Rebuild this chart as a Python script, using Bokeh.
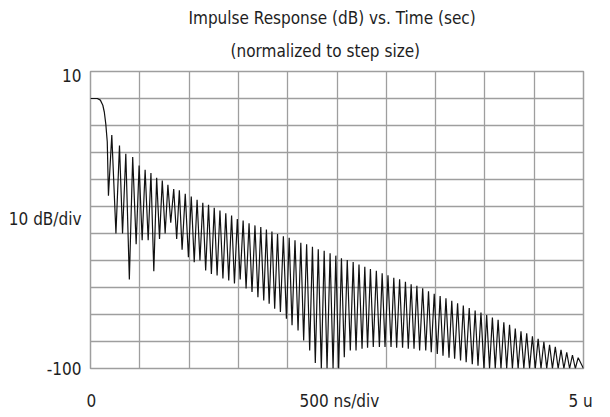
from bokeh.plotting import figure
from bokeh.models import Range1d, Grid, FixedTicker, LinearAxis, Title
from bokeh.embed import file_html
from bokeh.resources import INLINE

# ---- data (time in microseconds, level in dB) ----
main_t = [0.0, 0.07, 0.10, 0.125, 0.14, 0.155, 0.17]
main_db = [0.0, 0.0, -0.6, -2.5, -5.0, -9.4, -16.0]

null_t = [0.182, 0.258, 0.325, 0.394, 0.463, 0.524, 0.585, 0.642, 0.700, 0.757,
          0.814, 0.874, 0.929, 0.993, 1.052, 1.110, 1.168, 1.226, 1.284, 1.343,
          1.402, 1.460, 1.518, 1.578, 1.638, 1.698, 1.757, 1.812, 1.868, 1.926,
          1.987, 2.044, 2.105, 2.162, 2.223, 2.280, 2.341, 2.399, 2.460, 2.517,
          2.574, 2.635, 2.693, 2.754, 2.810, 2.868, 2.930, 2.987, 3.048, 3.105,
          3.165, 3.223, 3.281, 3.338, 3.400, 3.456, 3.517, 3.575, 3.636, 3.693,
          3.753, 3.810, 3.872, 3.930, 3.990, 4.047, 4.105, 4.163, 4.221, 4.279,
          4.337, 4.395, 4.453, 4.511, 4.569, 4.627, 4.685, 4.743, 4.801, 4.859,
          4.917, 5.000]
null_db = [-36.0, -50.0, -50.0, -67.0, -54.0, -52.5, -52.5, -64.0, -52.0, -50.0,
           -46.0, -52.0, -56.0, -58.8, -60.6, -60.0, -63.7, -65.0, -65.5, -66.7,
           -67.4, -68.5, -67.0, -70.4, -71.7, -73.6, -74.8, -76.0, -77.9, -79.1,
           -81.6, -84.0, -85.9, -89.6, -93.3, -98.0, -100.0, -100.0, -100.0, -100.0,
           -95.8, -93.3, -93.3, -92.7, -92.3, -92.0, -92.0, -92.0, -92.0, -92.3,
           -92.3, -92.7, -92.7, -93.3, -93.3, -94.0, -94.6, -95.3, -96.0, -96.4,
           -97.0, -97.7, -98.4, -99.0, -100.0, -100.0, -100.0, -100.0, -100.0, -100.0,
           -100.0, -100.0, -100.0, -100.0, -100.0, -100.0, -100.0, -100.0, -100.0, -100.0,
           -100.0, -100.0]

peak_t = [0.216, 0.294, 0.358, 0.428, 0.493, 0.554, 0.613, 0.671, 0.728, 0.785,
          0.844, 0.901, 0.961, 1.022, 1.081, 1.139, 1.197, 1.255, 1.313, 1.372,
          1.431, 1.489, 1.548, 1.608, 1.668, 1.727, 1.784, 1.840, 1.897, 1.956,
          2.015, 2.074, 2.133, 2.192, 2.251, 2.310, 2.370, 2.430, 2.488, 2.545,
          2.604, 2.664, 2.723, 2.782, 2.839, 2.899, 2.958, 3.017, 3.076, 3.135,
          3.194, 3.252, 3.310, 3.369, 3.428, 3.486, 3.546, 3.605, 3.664, 3.723,
          3.781, 3.841, 3.901, 3.960, 4.018, 4.076, 4.134, 4.192, 4.250, 4.308,
          4.366, 4.424, 4.482, 4.540, 4.598, 4.656, 4.714, 4.772, 4.830, 4.888,
          4.946]
peak_db = [-13.5, -17.4, -20.5, -21.7, -24.8, -26.4, -27.6, -29.4, -30.4, -32.0,
           -33.5, -34.0, -35.3, -36.3, -37.5, -38.6, -39.4, -40.5, -41.5, -42.5,
           -43.3, -44.6, -45.2, -46.2, -47.0, -47.6, -48.5, -49.3, -50.2, -51.0,
           -51.6, -52.5, -53.4, -54.0, -54.9, -55.8, -56.4, -57.3, -58.2, -59.2,
           -59.8, -60.6, -61.5, -62.3, -63.2, -63.8, -64.7, -65.5, -66.4, -67.0,
           -67.9, -68.8, -69.4, -70.3, -71.4, -72.3, -73.2, -74.0, -74.9, -75.8,
           -76.7, -77.6, -78.5, -79.3, -80.2, -81.1, -82.0, -82.9, -83.8, -85.2,
           -86.2, -87.0, -88.1, -89.0, -90.1, -91.2, -92.0, -93.1, -94.0, -95.0,
           -96.0]

x_grid = [0.0, 0.5, 1.0, 1.5, 2.0, 2.5, 3.0, 3.5, 4.0, 4.5, 5.0]
y_grid = [10, 0, -10, -20, -30, -40, -50, -60, -70, -80, -90, -100]

title_lines = ["Impulse Response (dB) vs. Time (sec)", "(normalized to step size)"]
y_label_at = [8.5, -44.8, -100]
y_labels = ["10", "10 dB/div", "-100"]
x_label_at = [0.01, 2.524, 4.97]
x_labels = ["0", "500 ns/div", "5 u"]

# ---- trace assembled from the arrays ----
xs = list(main_t)
ys = list(main_db)
for i in range(len(null_t)):
    xs.append(null_t[i]); ys.append(null_db[i])
    if i < len(peak_t):
        xs.append(peak_t[i]); ys.append(peak_db[i])

FONT = "'Liberation Sans Narrow', 'DejaVu Sans Condensed', 'Roboto Condensed', 'Liberation Sans', sans-serif"
TXT = "#1e1e1e"
GRID = "#9e9e9e"
FS = "17px"

p = figure(width=600, height=415, output_backend="svg", toolbar_location=None, tools="",
           x_range=Range1d(0, 5), y_range=Range1d(-100, 10),
           x_axis_type=None, y_axis_type=None,
           min_border_left=90, min_border_right=17, min_border_top=71, min_border_bottom=47)
p.outline_line_color = GRID
p.outline_line_width = 1.5
p.background_fill_color = "white"
p.border_fill_color = "white"

p.add_layout(Grid(dimension=0, ticker=FixedTicker(ticks=x_grid),
                  grid_line_color=GRID, grid_line_width=1.3))
p.add_layout(Grid(dimension=1, ticker=FixedTicker(ticks=y_grid),
                  grid_line_color=GRID, grid_line_width=1.3))

p.line(xs, ys, line_color="#111111", line_width=1.2)

def style_axis(ax, standoff):
    ax.axis_line_color = None
    ax.major_tick_line_color = None
    ax.minor_tick_line_color = None
    ax.major_tick_out = 0
    ax.major_tick_in = 0
    ax.major_label_standoff = standoff
    ax.major_label_text_font = FONT
    ax.major_label_text_font_size = FS
    ax.major_label_text_color = TXT

yax = LinearAxis(ticker=FixedTicker(ticks=y_label_at),
                 major_label_overrides=dict(zip(y_label_at, y_labels)))
style_axis(yax, 9)
p.add_layout(yax, "left")

xax = LinearAxis(ticker=FixedTicker(ticks=x_label_at),
                 major_label_overrides=dict(zip(x_label_at, x_labels)))
style_axis(xax, 22)
p.add_layout(xax, "below")

t2 = Title(text=title_lines[1], align="left", offset=140, text_font=FONT,
           text_font_size=FS, text_font_style="normal", text_color=TXT, standoff=21)
t1 = Title(text=title_lines[0], align="left", offset=98, text_font=FONT,
           text_font_size=FS, text_font_style="normal", text_color=TXT, standoff=2)
p.add_layout(t2, "above")
p.add_layout(t1, "above")

open("out.html", "w").write(file_html(p, INLINE))
